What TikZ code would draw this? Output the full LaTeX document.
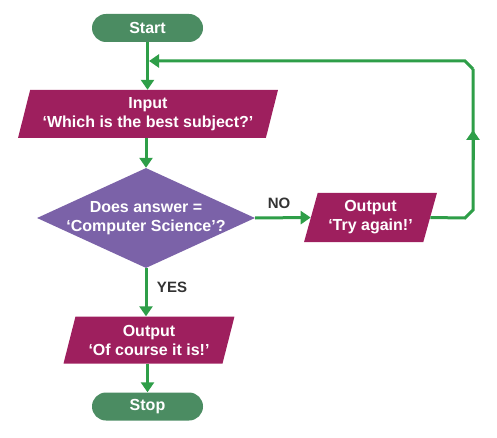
\documentclass[tikz,border=0pt]{standalone}
\usepackage{fontspec}
\setmainfont{Liberation Sans}
\usetikzlibrary{shapes.geometric,arrows.meta}
\definecolor{termgreen}{HTML}{4B8C62}
\definecolor{iomag}{HTML}{9E1F5E}
\definecolor{decpurple}{HTML}{7B62A8}
\definecolor{flowgreen}{HTML}{2E9E48}
\definecolor{labgray}{HTML}{333333}
\begin{document}
\begin{tikzpicture}[x=1pt,y=-1pt,
  term/.style={rectangle, rounded corners=14pt, fill=termgreen, minimum width=111pt, minimum height=28pt, text=white, font=\bfseries\fontsize{16}{19}\selectfont, inner sep=0pt},
  io/.style={trapezium, trapezium left angle=72, trapezium right angle=108, trapezium stretches=true, fill=iomag, text=white, font=\bfseries\fontsize{16}{19}\selectfont, align=center, inner sep=0pt},
  dec/.style={diamond, aspect=2.18, fill=decpurple, minimum width=218pt, minimum height=100pt, inner sep=0pt},
  dectext/.style={text=white, font=\bfseries\fontsize{16}{19}\selectfont, align=center, inner sep=0pt},
  flow/.style={draw=flowgreen, line width=3pt, -{Triangle[width=13pt,length=10pt]}},
  flowline/.style={draw=flowgreen, line width=3pt},
  lab/.style={text=labgray, font=\bfseries\fontsize{15}{18}\selectfont, inner sep=0pt}
]
\useasboundingbox (0,0) rectangle (497,438);
\node[term] (start) at (147.5,28) {Start};
\node[io, minimum width=260pt, minimum height=48pt] (input) at (148,114) {Input\\‘Which is the best subject?’};
\node[dec] (dec) at (146,218) {};
\node[dectext] (dectxt) at (dec.center) {Does answer =\\‘Computer Science’?};
\node[io, minimum width=133pt, minimum height=49pt] (try) at (370.5,217.5) {Output\\‘Try again!’};
\node[io, minimum width=171pt, minimum height=47pt] (course) at (149,340) {Output\\‘Of course it is!’};
\node[term] (stop) at (147.5,406.5) {Stop};
\node[lab] (no) at (279,203) {NO};
\node[lab] (yes) at (172,287) {YES};
\coordinate (c1) at (465,218);
\coordinate (c2) at (473,210);
\coordinate (c3) at (473,69);
\coordinate (c4) at (465,61);
\coordinate (loopend) at (149,61);
\coordinate (upfrom) at (473,160);
\coordinate (upto) at (473,130);
\draw[flow] (start.south) -- (start.south |- input.north);
\draw[flow] (input.south -| dec.north) -- (dec.north);
\draw[flow] (dec.east) -- (try.west);
\draw[flow] (dec.south) -- (dec.south |- course.north);
\draw[flow] (course.south -| stop.north) -- (stop.north);
\draw[flowline] (try.east) -- (c1) -- (c2) -- (c3);
\draw[flow] (c3) -- (c4) -- (loopend);
\draw[flow] (upfrom) -- (upto);
\end{tikzpicture}
\end{document}
